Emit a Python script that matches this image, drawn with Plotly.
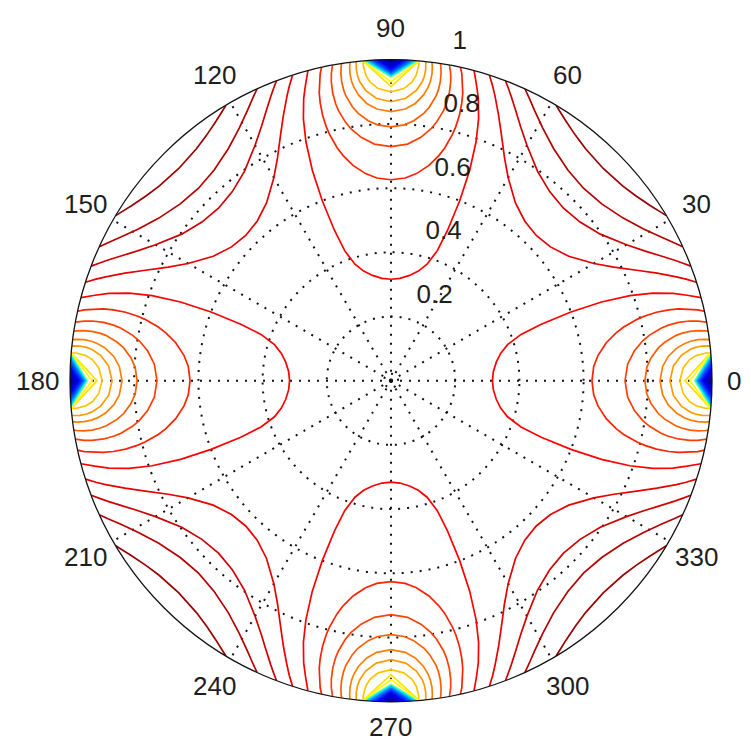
import math
import plotly.graph_objects as go

# ---------------- axis labels ----------------
angle_ticks = [0, 30, 60, 90, 120, 150, 180, 210, 240, 270, 300, 330]
angle_labels = ["0", "30", "60", "90", "120", "150", "180", "210", "240", "270", "300", "330"]
radial_ticks = [0.2, 0.4, 0.6, 0.8, 1.0]
radial_labels = ["0.2", "0.4", "0.6", "0.8", "1"]
radial_grid = [0.022, 0.2, 0.4, 0.6, 0.8]

# ------------- contour lines read in the first octant (radius, angle deg) -------------
# lobe contours: start on the 0 deg axis, end on the unit circle
A0_r = [0.316, 0.320, 0.333, 0.352, 0.380, 0.430, 0.500, 0.600, 0.700, 0.790, 0.860, 0.920, 0.960, 1.000]
A0_t = [0, 5, 10, 14, 17.2, 19.6, 20.6, 20.9, 20.5, 19.6, 18.5, 17.2, 16.1, 15.0]
A1_r = [0.626, 0.633, 0.650, 0.681, 0.717, 0.744, 0.790, 0.816, 0.854, 0.893, 0.924, 0.981, 1.000]
A1_t = [0, 4, 7, 10, 12, 13, 14, 14.3, 14.45, 14.3, 14, 13, 12.5]
A2_r = [0.729, 0.739, 0.764, 0.794, 0.818, 0.857, 0.879, 0.9135, 0.949, 0.974, 1.000]
A2_t = [0, 4, 7, 9, 10, 11, 11.3, 11.46, 11.3, 11, 10.5]
A3_r = [0.791, 0.798, 0.813, 0.839, 0.861, 0.898, 0.917, 0.944, 0.971, 0.992, 1.000]
A3_t = [0, 3, 5, 7, 8, 9, 9.25, 9.37, 9.25, 9, 8.86]
A4_r = [0.838, 0.8475, 0.867, 0.896, 0.921, 0.941, 0.964, 0.987, 1.000]
A4_t = [0, 3, 5, 6.5, 7.2, 7.5, 7.61, 7.5, 7.34]
A5_r = [0.869, 0.881, 0.908, 0.938, 0.954, 0.975, 0.996, 1.000]
A5_t = [0, 3, 5, 6, 6.25, 6.36, 6.25, 6.2]
A6_r = [0.900, 0.911, 0.932, 0.954, 0.984, 1.000]
A6_t = [0, 2.5, 4, 4.7, 5.03, 4.95]
A7_r = [0.916, 1.000]
A7_t = [0, 5.0]
A8_r = [0.931, 1.000]
A8_t = [0, 5.0]

lobe_r = [A0_r, A1_r, A2_r, A3_r, A4_r, A5_r, A6_r, A7_r, A8_r]
lobe_t = [A0_t, A1_t, A2_t, A3_t, A4_t, A5_t, A6_t, A7_t, A8_t]
lobe_colors = ["rgb(255,0,0)", "rgb(255,34,0)", "rgb(255,64,0)", "rgb(255,93,0)",
               "rgb(255,126,0)", "rgb(255,156,0)", "rgb(255,196,0)", "rgb(255,224,0)",
               "rgb(255,250,0)"]

# diagonal contours: start on the 45 deg diagonal, end on the unit circle
D0_r = [0.640, 0.6485, 0.676, 0.730, 0.779, 0.844, 0.894, 0.946, 0.972, 1.000]
D0_t = [45, 40, 35, 30, 27, 24, 22, 20, 19, 17.86]
D1_r = [0.760, 0.769, 0.796, 0.847, 0.889, 0.923, 0.960, 0.979, 1.000]
D1_t = [45, 40, 35, 30, 27, 25, 23, 22, 20.91]
D2_r = [0.848, 0.857, 0.883, 0.918, 0.953, 0.981, 1.000]
D2_t = [45, 40, 35, 31, 28, 26, 24.67]
D3_r = [0.935, 0.943, 0.956, 0.975, 0.991, 1.000]
D3_t = [45, 40, 37, 34, 32, 30.95]

diag_r = [D0_r, D1_r, D2_r, D3_r]
diag_t = [D0_t, D1_t, D2_t, D3_t]
diag_colors = ["rgb(232,0,0)", "rgb(208,0,0)", "rgb(182,0,0)", "rgb(155,0,0)"]

# densely packed contours at the four tips (apex radius on axis, half-angle at rim)
tip_apex = [0.944, 0.946, 0.948, 0.951, 0.954, 0.958, 0.963, 0.970, 0.978, 0.988, 0.996]
tip_half = [5.0, 4.8, 4.6, 4.3, 4.0, 3.6, 3.1, 2.5, 1.8, 1.0, 0.4]
tip_colors = ["rgb(170,255,85)", "rgb(80,255,175)", "rgb(0,240,255)", "rgb(0,190,255)",
              "rgb(0,140,255)", "rgb(0,90,255)", "rgb(0,40,255)", "rgb(0,0,235)",
              "rgb(0,0,200)", "rgb(0,0,165)", "rgb(0,0,135)"]

axis_dirs = [0, 90, 180, 270]
diag_dirs = [45, 135, 225, 315]

fig = go.Figure()

# tip fills
for a, h, col in zip(tip_apex, tip_half, tip_colors):
    for d in axis_dirs:
        rr = [1.0, a, 1.0, 1.0, 1.0, 1.0]
        tt = [d - h, d, d + h, d + h / 2, d - h / 2, d - h]
        fig.add_trace(go.Scatterpolar(r=rr, theta=tt, mode="lines", fill="toself",
                                      fillcolor=col, line=dict(color=col, width=0.5),
                                      hoverinfo="skip", showlegend=False))

# lobe contours
for r, t, col in zip(lobe_r, lobe_t, lobe_colors):
    for d in axis_dirs:
        rr = r[::-1] + r[1:]
        tt = [d - x for x in t[::-1]] + [d + x for x in t[1:]]
        fig.add_trace(go.Scatterpolar(r=rr, theta=tt, mode="lines",
                                      line=dict(color=col, width=1.7),
                                      hoverinfo="skip", showlegend=False))

# diagonal contours
for r, t, col in zip(diag_r, diag_t, diag_colors):
    for d in diag_dirs:
        rr = r[::-1] + r[1:]
        tt = [d + (45 - x) for x in t[::-1]] + [d - (45 - x) for x in t[1:]]
        fig.add_trace(go.Scatterpolar(r=rr, theta=tt, mode="lines",
                                      line=dict(color=col, width=1.7),
                                      hoverinfo="skip", showlegend=False))

font = dict(family="Liberation Sans, Arial, Helvetica, sans-serif", size=26, color="#1e1e1e")

# figure geometry (page has an 8px body margin on every side; keep it free of scrollbars)
W, H = 735, 734
cx, cy, R = 383.0, 372.7, 321.0


def to_paper(r, deg):
    px = cx + r * R * math.cos(math.radians(deg))
    py = cy - r * R * math.sin(math.radians(deg))
    return px / W, 1 - py / H


annotations = []
for a, lab in zip(angle_ticks, angle_labels):
    x, y = to_paper(1.1, a)
    annotations.append(dict(x=x, y=y, xref="paper", yref="paper", text=lab, showarrow=False,
                            xanchor="center", yanchor="middle", font=font,
                            xshift=-10 if a == 0 else 0, yshift=7 if a == 270 else 0))
for v, lab in zip(radial_ticks, radial_labels):
    x, y = to_paper(v + 0.01, 82)
    annotations.append(dict(x=x, y=y, xref="paper", yref="paper", text="\u00a0\u00a0" + lab,
                            showarrow=False, xanchor="left", yanchor="bottom", yshift=3,
                            font=font))

fig.update_layout(
    width=W, height=H,
    margin=dict(l=0, r=0, t=0, b=0),
    paper_bgcolor="white",
    plot_bgcolor="white",
    showlegend=False,
    annotations=annotations,
    polar=dict(
        domain=dict(x=[(cx - R) / W, (cx + R) / W], y=[1 - (cy + R) / H, 1 - (cy - R) / H]),
        bgcolor="white",
        radialaxis=dict(range=[0, 1], tickvals=radial_grid, showticklabels=False, ticks="",
                        showline=False, gridcolor="#111111", griddash="2px,7px", gridwidth=1.5),
        angularaxis=dict(tickvals=angle_ticks, showticklabels=False, ticks="",
                         direction="counterclockwise", rotation=0,
                         showline=True, linecolor="#111111", linewidth=1.3,
                         gridcolor="#111111", griddash="2px,7px", gridwidth=1.5),
    ),
)

fig.write_html("out.html")
